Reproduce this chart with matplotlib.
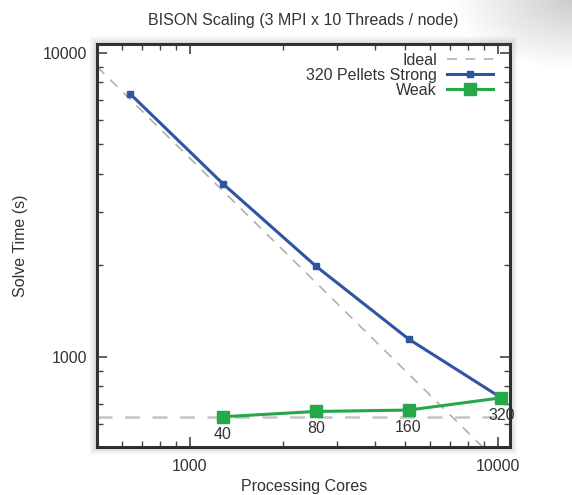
import numpy as np
import matplotlib.pyplot as plt
from matplotlib.patches import Rectangle
from matplotlib.ticker import LogLocator, NullFormatter, FixedLocator

plt.rcParams['font.family'] = ['Liberation Sans', 'DejaVu Sans']

# data
cores = [640, 1280, 2560, 5120, 10240]
strong_time = [7330, 3710, 1990, 1145, 733]
weak_cores = [1280, 2560, 5120, 10240]
weak_time = [635, 661, 668, 733]
weak_labels = ["40", "80", "160", "320"]
ideal_const = 4.5e6      # time * cores of the ideal strong line
ideal_weak = 635

blue = '#2d55a3'
green = '#25a84a'

W, H = 572, 495
fig = plt.figure(figsize=(W / 100, H / 100), dpi=100)
ax = fig.add_axes([0.170, 0.097, 0.722, 0.814])

# soft shadow round the frame, outside only
x0, y0, w, h = ax.get_position().bounds
for d in range(1, 8):
    fig.patches.append(Rectangle((x0 - d / W, y0 - d / H), w + 2 * d / W, h + 2 * d / H,
                                 transform=fig.transFigure, fill=False, lw=1.2,
                                 ec='black', alpha=0.10 * (1 - d / 8), zorder=0))

# grey smudge in the top right corner
gy, gx = np.mgrid[0:70, 0:120]
dist = np.hypot((gx - 120) / 120.0, (gy - 70) / 70.0)
img = np.zeros((70, 120, 4))
img[..., :3] = 0.6
img[..., 3] = np.clip(0.5 * (1 - dist), 0, 1)
fig.figimage(img, xo=W - 120, yo=H - 70, origin='lower', zorder=0)

xs = np.array([500, 11000])
ax.plot(xs, ideal_const / xs, ls=(0, (6, 5)), color='#b0b0b0', lw=1.2, label='Ideal', zorder=2)
ax.plot(xs, [ideal_weak, ideal_weak], ls=(0, (6, 5)), color='#c4c4c4', lw=1.8, zorder=2)
ax.plot(cores, strong_time, '-s', color=blue, lw=2.2, ms=5, label='320 Pellets Strong', zorder=3)
ax.plot(weak_cores, weak_time, '-s', color=green, lw=2.2, ms=8, label='Weak', zorder=4)

for x, y, s in zip(weak_cores, weak_time, weak_labels):
    ax.annotate(s, (x, y), xytext=(0, -12.5), textcoords='offset points',
                ha='center', va='center', fontsize=11.5, color='#333333')

ax.set_xscale('log')
ax.set_yscale('log')
ax.set_xlim(500, 10950)
ax.set_ylim(505, 10700)

for axis in (ax.xaxis, ax.yaxis):
    axis.set_major_locator(FixedLocator([1000, 10000]))
    axis.set_minor_locator(LogLocator(base=10, subs=np.arange(2, 10)))
    axis.set_minor_formatter(NullFormatter())
ax.set_xticklabels(['1000', '10000'])
ax.set_yticklabels(['1000', '10000'])

ax.tick_params(which='both', direction='in', top=True, right=True, colors='#444444',
               labelcolor='#333333', labelsize=11.5)
ax.tick_params(which='major', length=7, width=1.2)
ax.tick_params(axis='x', which='major', pad=9)
ax.tick_params(axis='y', which='major', pad=7)
ax.tick_params(which='minor', length=4, width=1.0)
for sp in ax.spines.values():
    sp.set_linewidth(2.2)
    sp.set_color('#333333')

ax.set_title('BISON Scaling (3 MPI x 10 Threads / node)', fontsize=11.5, color='#333333', pad=14)
ax.set_xlabel('Processing Cores', fontsize=11.5, color='#333333', labelpad=3)
ax.set_ylabel('Solve Time (s)', fontsize=11.5, color='#333333', labelpad=11)

ax.legend(loc='upper right', bbox_to_anchor=(0.985, 1.006), frameon=False, markerfirst=False,
          fontsize=11.5, labelspacing=0.0, handlelength=2.9, handletextpad=0.6,
          borderpad=0.2, labelcolor='#333333')

fig.savefig('out.png', dpi=100)
